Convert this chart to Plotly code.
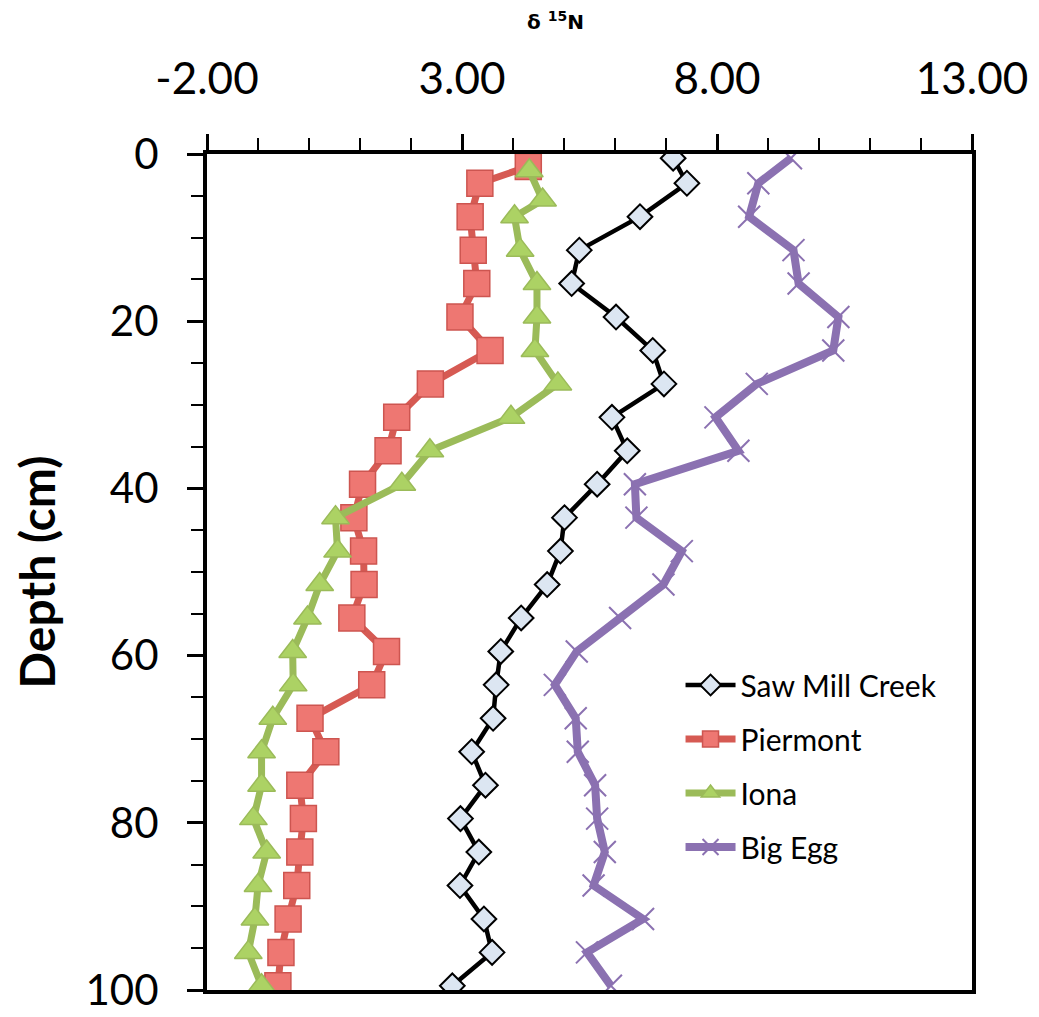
import plotly.graph_objects as go

# Depths (cm)
depth_saw_mill = [0.5, 3.5, 7.5, 11.5, 15.5, 19.5, 23.5, 27.5, 31.5, 35.5, 39.5, 43.5, 47.5,
                  51.5, 55.5, 59.5, 63.5, 67.5, 71.5, 75.5, 79.5, 83.5, 87.5, 91.5, 95.5, 99.5]
depth_piermont = [1.5, 3.5, 7.5, 11.5, 15.5, 19.5, 23.5, 27.5, 31.5, 35.5, 39.5, 43.5, 47.5,
                  51.5, 55.5, 59.5, 63.5, 67.5, 71.5, 75.5, 79.5, 83.5, 87.5, 91.5, 95.5, 99.5]
depth_iona = [2.0, 5.5, 7.5, 11.5, 15.5, 19.5, 23.5, 27.5, 31.5, 35.5, 39.5, 43.5, 47.5,
              51.5, 55.5, 59.5, 63.5, 67.5, 71.5, 75.5, 79.5, 83.5, 87.5, 91.5, 95.5, 99.5]
depth_big_egg = [0.5, 3.5, 7.5, 11.5, 15.5, 19.5, 23.5, 27.5, 31.5, 35.5, 39.5, 43.5, 47.5,
                 51.5, 55.5, 59.5, 63.5, 67.5, 71.5, 75.5, 79.5, 83.5, 87.5, 91.5, 95.5, 99.5]

# delta 15N values
saw_mill_creek = [7.14, 7.41, 6.49, 5.30, 5.15, 6.02, 6.74, 6.96, 5.94, 6.24, 5.65, 5.01, 4.93,
                  4.67, 4.16, 3.76, 3.67, 3.61, 3.19, 3.46, 2.97, 3.33, 2.96, 3.43, 3.59, 2.81]
piermont = [4.30, 3.35, 3.16, 3.22, 3.29, 2.96, 3.55, 2.38, 1.72, 1.55, 1.05, 0.88, 1.07,
            1.08, 0.84, 1.52, 1.23, 0.02, 0.33, -0.18, -0.11, -0.18, -0.24, -0.41, -0.55, -0.61]
iona = [4.32, 4.58, 4.03, 4.14, 4.47, 4.47, 4.43, 4.88, 3.96, 2.37, 1.82, 0.52, 0.56,
        0.21, -0.03, -0.32, -0.31, -0.71, -0.93, -0.93, -1.09, -0.83, -1.00, -1.06, -1.19, -0.93]
big_egg = [9.45, 8.81, 8.63, 9.50, 9.60, 10.38, 10.28, 8.78, 7.97, 8.42, 6.39, 6.42, 7.31,
           6.95, 6.10, 5.25, 4.82, 5.23, 5.27, 5.61, 5.65, 5.80, 5.58, 6.55, 5.45, 5.92]

x_ticks = [-2, 3, 8, 13]
x_tick_labels = ["%.2f" % v for v in x_ticks]  # hyphen-minus like the original
y_ticks = [0, 20, 40, 60, 80, 100]

FONT = "Lato, 'Open Sans', sans-serif"

fig = go.Figure()

fig.add_trace(go.Scatter(
    x=saw_mill_creek, y=depth_saw_mill, name="Saw Mill Creek", mode="lines+markers",
    line=dict(color="black", width=4.5),
    marker=dict(symbol="diamond", size=19, color="#dce6f2", line=dict(color="black", width=2)),
    legendgroup="a",
))
fig.add_trace(go.Scatter(
    x=piermont, y=depth_piermont, name="Piermont", mode="lines+markers",
    line=dict(color="#d65a53", width=7),
    marker=dict(symbol="square", size=26, color="#ee7772", line=dict(color="#cd5550", width=1.5)),
    legendgroup="b",
))
fig.add_trace(go.Scatter(
    x=iona, y=depth_iona, name="Iona", mode="lines+markers",
    line=dict(color="#9bbb59", width=7),
    marker=dict(symbol="triangle-up", size=24, color="#acd264", line=dict(color="#9bbb59", width=1.5)),
    legendgroup="c",
))
fig.add_trace(go.Scatter(
    x=big_egg, y=depth_big_egg, name="Big Egg", mode="lines+markers",
    line=dict(color="#8b71b1", width=8),
    marker=dict(symbol="x-thin", size=22, color="#8b71b1", line=dict(color="#8b71b1", width=2)),
    legendgroup="d",
))

fig.update_layout(
    width=1039, height=1017,
    margin=dict(l=199, r=75, t=146, b=35, autoexpand=False),
    paper_bgcolor="white", plot_bgcolor="white",
    font=dict(family=FONT, color="black"),
    showlegend=True,
    legend=dict(
        x=0.619, y=0.396, xanchor="left", yanchor="top",
        font=dict(size=30, family=FONT, color="black"),
        bgcolor="rgba(0,0,0,0)", tracegroupgap=12, itemwidth=50,
    ),
    annotations=[dict(
        text="<b>δ <sup>15</sup>N</b>", x=0.455, y=1.0, xref="paper", yref="paper",
        yshift=118, yanchor="bottom", xanchor="center", showarrow=False,
        font=dict(size=20, family="DejaVu Sans, sans-serif", color="black"),
    )],
)

fig.update_xaxes(
    side="top", range=[-2, 13], tickvals=x_ticks, ticktext=x_tick_labels,
    showline=True, linecolor="black", linewidth=4, mirror=True,
    ticks="outside", ticklen=16, tickwidth=2.5, tickcolor="black",
    ticklabelstandoff=22, automargin=False,
    tickfont=dict(size=44, family=FONT, color="black"),
    minor=dict(dtick=1, ticks="outside", ticklen=12, tickwidth=2, tickcolor="black"),
    showgrid=False, zeroline=False,
)
fig.update_yaxes(
    range=[100, 0], tickvals=y_ticks,
    showline=True, linecolor="black", linewidth=4, mirror=True,
    ticks="outside", ticklen=16, tickwidth=2.5, tickcolor="black",
    ticklabelstandoff=20, automargin=False,
    tickfont=dict(size=42, family=FONT, color="black"),
    minor=dict(dtick=5, ticks="outside", ticklen=12, tickwidth=2, tickcolor="black"),
    showgrid=False, zeroline=False,
    title=dict(text="<b>Depth (cm)</b>", font=dict(size=48, family=FONT, color="black"), standoff=22),
)

fig.write_html("out.html")
